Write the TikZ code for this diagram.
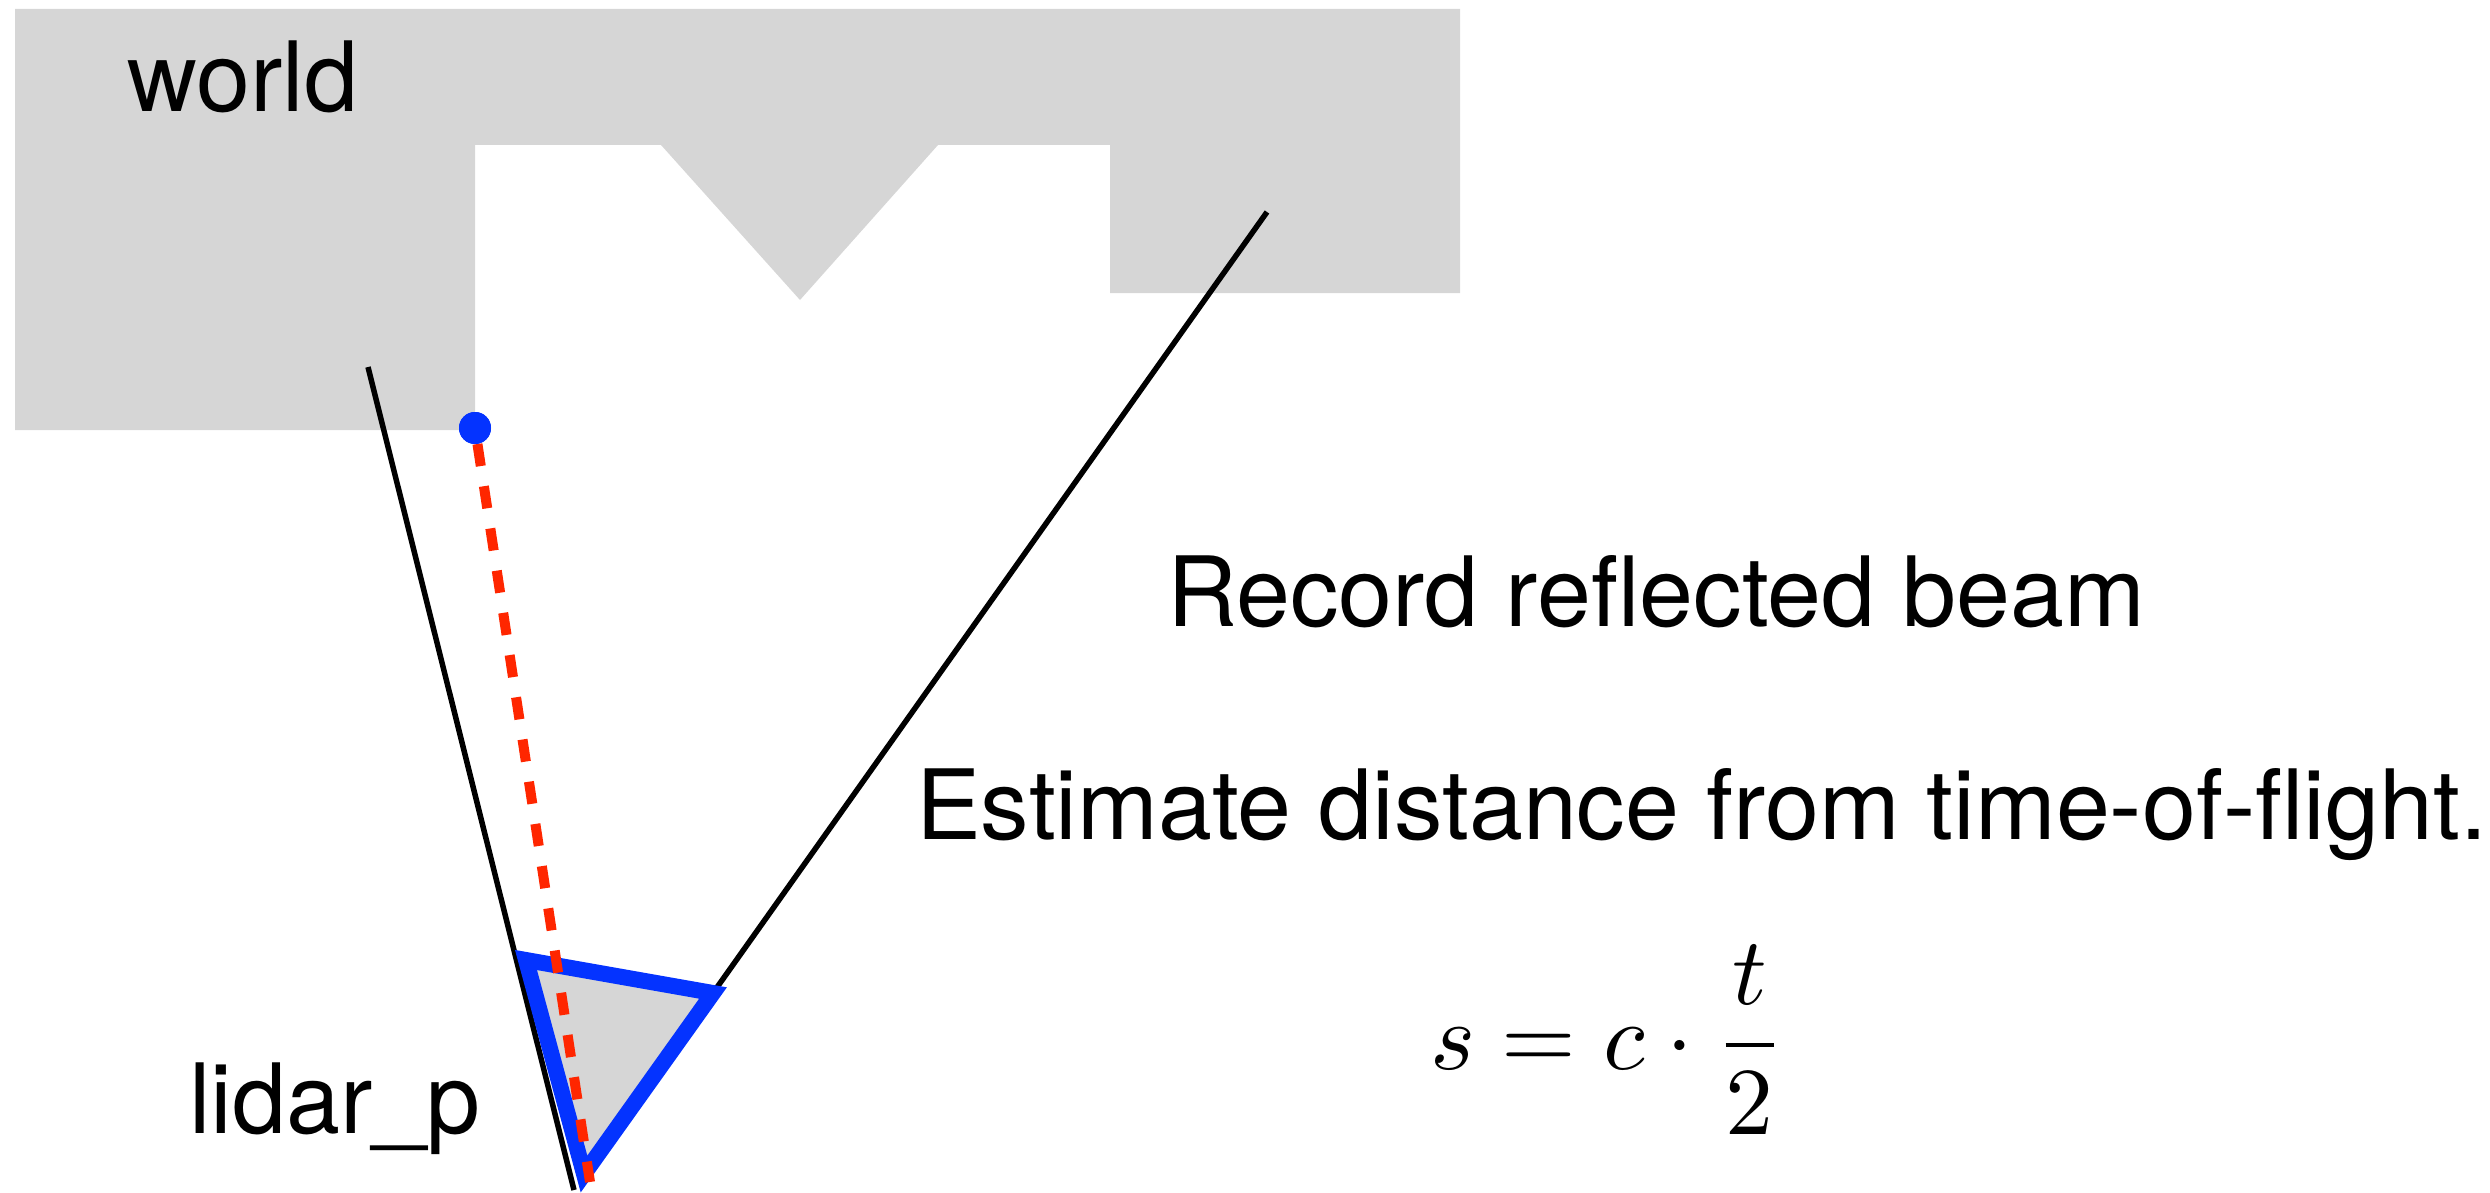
\documentclass[tikz,border=0pt]{standalone}
\usepackage{fontspec}
\usepackage{graphicx}
\setmainfont{TeX Gyre Heros}
\definecolor{worldgray}{RGB}{214,214,214}
\definecolor{lidarblue}{RGB}{4,51,255}
\definecolor{beamred}{RGB}{255,38,0}
\tikzset{
  label text/.style={inner sep=0pt, anchor=base west, font=\fontsize{97}{110}\selectfont},
  fov line/.style={draw=black, line width=5.5pt},
  sensor/.style={draw=lidarblue, fill=worldgray, line width=16pt, line join=miter},
  beam/.style={draw=beamred, line width=10pt, dash pattern=on 22.3pt off 20.4pt},
  hit/.style={circle, fill=lidarblue, inner sep=0pt, minimum size=32pt}
}
\begin{document}
\begin{tikzpicture}[x=1pt,y=-1pt]
\useasboundingbox (0,0) rectangle (2490,1193);
% world
\fill[worldgray] (15,9) -- (1460,9) -- (1460,293) -- (1110,293) -- (1110,145)
  -- (938,145) -- (800,300) -- (661,145) -- (475,145) -- (475,430) -- (15,430) -- cycle;
\node[label text] (world) at (127,112) {world};
% coordinates
\coordinate (lt) at (368,367);
\coordinate (lb) at (574,1190);
\coordinate (rt) at (1267,212);
\coordinate (ta) at (526,960);
\coordinate (tb) at (713,993);
\coordinate (tc) at (584,1174);
\coordinate (rend) at (590,1182);
% field of view lines
\draw[fov line] (lt) -- (lb);
\draw[fov line] (rt) -- (tb);
% sensor
\draw[sensor] (ta) -- (tb) -- (tc) -- cycle;
% hit point and beam
\node[hit] (dot) at (475,428) {};
\draw[beam] (dot) -- (rend);
\node[hit] at (dot) {};
% texts
\node[label text] (lidar) at (189,1133) {lidar\_p};
\node[label text] (record) at (1167,626) {Record reflected beam};
\node[label text] (estimate) at (916,839) {Estimate distance from time-of-flight.};
\node[inner sep=0pt, anchor=base west] (formula) at (1430,1069) {\scalebox{9.6}{$\displaystyle s=c\cdot\frac{t}{2}$}};
\end{tikzpicture}
\end{document}
